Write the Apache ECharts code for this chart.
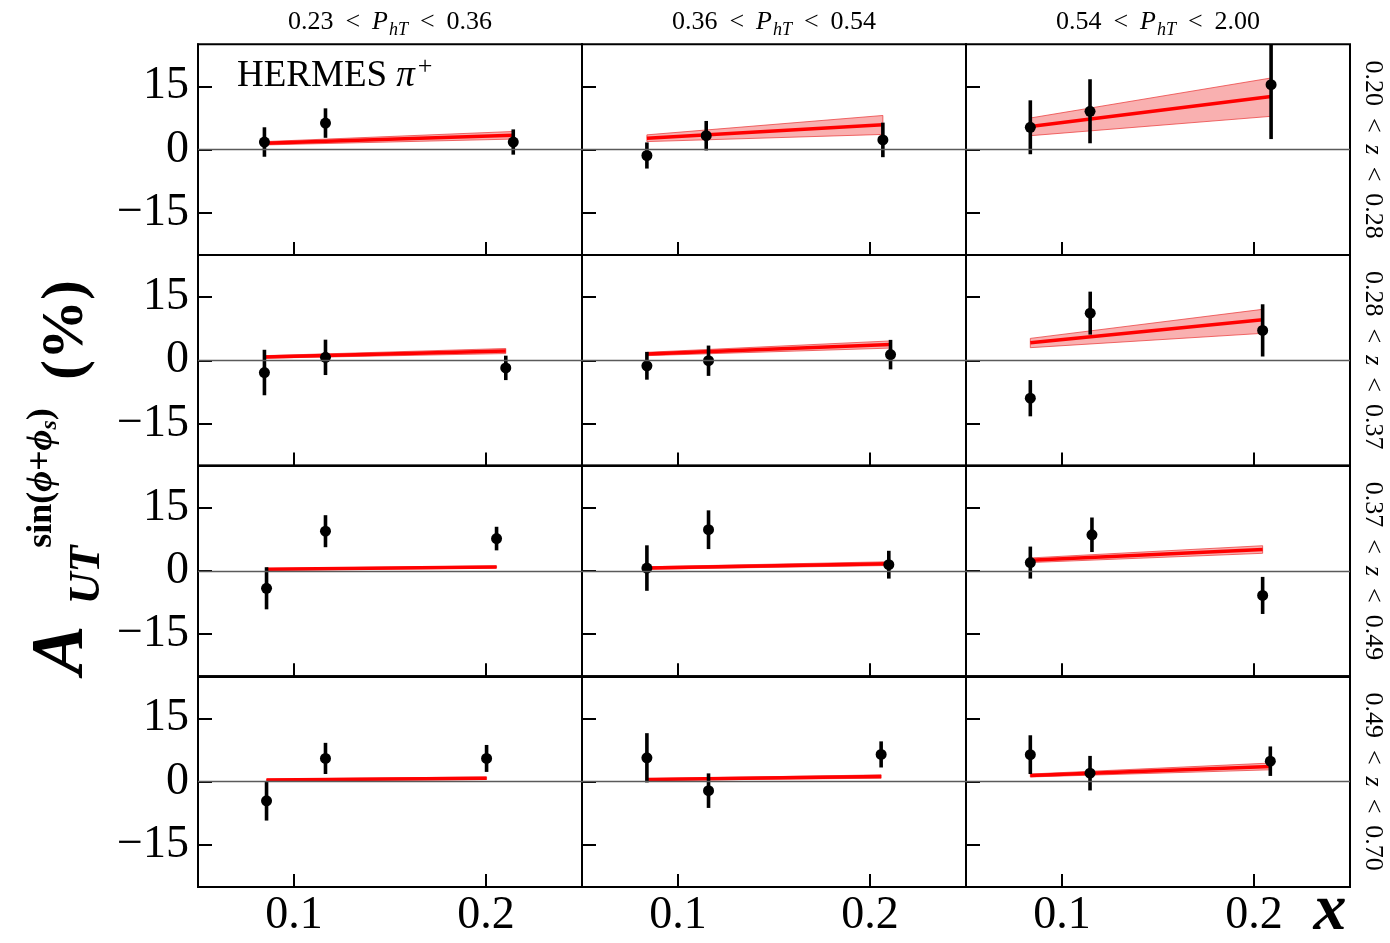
<!DOCTYPE html>
<html><head><meta charset="utf-8">
<script src="https://cdn.jsdelivr.net/npm/echarts@6/dist/echarts.min.js"></script>
<style>html,body{margin:0;padding:0;background:#fff}#c{width:1390px;height:943px}</style>
</head><body><div id="c"></div>
<script>
// ---- DATA ----
const phtEdges = ['0.23', '0.36', '0.54', '2.00'];
const zEdges = ['0.20', '0.28', '0.37', '0.49', '0.70'];
const xTicks = [0.1, 0.2];
const yTicks = [-15, 0, 15];
const xRange = [0.05, 0.25];
const yRange = [-25, 25];

// panel index = row*3 + col
const dataX = [
  [0.0846, 0.1164, 0.2142], [0.0838, 0.1147, 0.2067], [0.0835, 0.1146, 0.2089],
  [0.0846, 0.1164, 0.2103], [0.0838, 0.1159, 0.2107], [0.0835, 0.1147, 0.2045],
  [0.0857, 0.1164, 0.2055], [0.0838, 0.1159, 0.2098], [0.0835, 0.1156, 0.2045],
  [0.0857, 0.1164, 0.2003], [0.0838, 0.1159, 0.2058], [0.0835, 0.1146, 0.2085]
];
const dataY = [
  [1.8, 6.3, 1.8], [-1.4, 3.3, 2.3], [5.3, 9.1, 15.4],
  [-2.9, 0.7, -1.8], [-1.3, -0.1, 1.35], [-9.0, 11.2, 7.1],
  [-4.1, 9.45, 7.7], [0.7, 9.8, 1.5], [2.0, 8.6, -5.8],
  [-4.55, 5.5, 5.5], [5.65, -2.15, 6.45], [6.4, 2.0, 4.85]
];
const dataErr = [
  [3.5, 3.5, 3.0], [3.1, 3.5, 4.1], [6.4, 7.6, 12.9],
  [5.4, 4.2, 2.9], [3.3, 3.6, 3.5], [4.3, 5.1, 6.2],
  [5.0, 3.8, 2.8], [5.4, 4.6, 3.3], [3.8, 4.1, 4.4],
  [4.7, 3.7, 3.2], [5.85, 4.1, 3.1], [4.6, 4.1, 3.5]
];
const curveX = [
  [0.0846, 0.2142], [0.0838, 0.2067], [0.0835, 0.2089],
  [0.0846, 0.2103], [0.0838, 0.2107], [0.0835, 0.2045],
  [0.0857, 0.2055], [0.0838, 0.2098], [0.0835, 0.2045],
  [0.0857, 0.2003], [0.0838, 0.2058], [0.0835, 0.2085]
];
const curveMid = [
  [1.5, 3.4], [2.7, 5.9], [5.5, 12.6],
  [0.8, 2.2], [1.5, 3.75], [4.15, 9.6],
  [0.4, 0.95], [0.7, 1.75], [2.55, 5.1],
  [0.4, 0.8], [0.5, 1.2], [1.45, 3.6]
];
const curveLo = [
  [1.1, 2.5], [1.9, 3.6], [3.3, 7.9],
  [0.5, 1.6], [1.1, 2.9], [3.0, 6.4],
  [0.2, 0.7], [0.4, 1.3], [2.0, 4.2],
  [0.2, 0.5], [0.3, 0.8], [1.1, 2.8]
];
const curveHi = [
  [1.9, 4.3], [3.5, 8.1], [7.5, 17.0],
  [1.1, 2.8], [1.9, 4.6], [5.2, 12.1],
  [0.6, 1.2], [1.0, 2.2], [3.1, 6.0],
  [0.6, 1.1], [0.7, 1.6], [1.8, 4.4]
];

// ---- LAYOUT / STYLE ----
const FONT = 'Liberation Serif';
const gridLeft = [198, 582, 966], gridW = 384;
const gridTop = [44.3, 255, 465.7, 676.3], gridH = 210.6;

const grids = [], xAxes = [], yAxes = [], series = [];
for (let r = 0; r < 4; r++) {
  for (let c = 0; c < 3; c++) {
    const p = r * 3 + c;
    grids.push({left: gridLeft[c], top: gridTop[r], width: gridW, height: gridH,
      show: true, borderColor: '#000', borderWidth: 2, backgroundColor: 'transparent'});
    xAxes.push({gridIndex: p, type: 'value', min: xRange[0], max: xRange[1], position: 'bottom',
      axisLine: {show: true, onZero: false, lineStyle: {color: '#000', width: 2}},
      splitLine: {show: false},
      axisTick: {show: true, inside: true, length: 13, lineStyle: {color: '#000', width: 2}, customValues: xTicks},
      axisLabel: {show: r === 3, customValues: xTicks, formatter: v => v.toFixed(1),
        fontSize: 46, fontFamily: FONT, color: '#000', margin: 6}
    });
    yAxes.push({gridIndex: p, type: 'value', min: yRange[0], max: yRange[1], position: 'left',
      axisLine: {show: true, onZero: false, lineStyle: {color: '#000', width: 2}},
      splitLine: {show: false},
      axisTick: {show: true, inside: true, length: 14, lineStyle: {color: '#000', width: 2}, customValues: yTicks},
      axisLabel: {show: c === 0, customValues: yTicks,
        formatter: v => v < 0 ? '\u2212' + Math.abs(v) : String(v),
        fontSize: 46, fontFamily: FONT, color: '#000', margin: 9}
    });
    const cx = curveX[p], lo = curveLo[p], hi = curveHi[p];
    series.push({
      type: 'custom', xAxisIndex: p, yAxisIndex: p, z: 1, silent: true,
      data: cx.map((x, i) => [x, lo[i], hi[i]]),
      renderItem: (params, api) => {
        if (params.dataIndex !== 0) return null;
        const pts = [];
        for (let i = 0; i < cx.length; i++) pts.push(api.coord([cx[i], hi[i]]));
        for (let i = cx.length - 1; i >= 0; i--) pts.push(api.coord([cx[i], lo[i]]));
        return {type: 'polygon', shape: {points: pts},
          style: {fill: 'rgba(242,80,80,0.45)', stroke: 'rgba(235,60,60,0.75)', lineWidth: 1}};
      },
      markLine: {silent: true, symbol: 'none', animation: false,
        data: [{yAxis: 0}], label: {show: false},
        lineStyle: {color: '#5a5a5a', width: 1.3, type: 'solid'}}
    });
    series.push({
      type: 'line', xAxisIndex: p, yAxisIndex: p, z: 3, silent: true,
      data: cx.map((x, i) => [x, curveMid[p][i]]),
      symbol: 'none', lineStyle: {color: '#ff0000', width: 3.5}
    });
    series.push({
      type: 'custom', xAxisIndex: p, yAxisIndex: p, z: 4, silent: true,
      data: dataX[p].map((x, i) => [x, dataY[p][i], dataErr[p][i]]),
      renderItem: (params, api) => {
        const x = api.value(0), y = api.value(1), e = api.value(2);
        const cs = params.coordSys;
        const c0 = api.coord([x, y]);
        const t = api.coord([x, y + e]), b = api.coord([x, y - e]);
        const y1 = Math.max(t[1], cs.y), y2 = Math.min(b[1], cs.y + cs.height);
        return {type: 'group', children: [
          {type: 'line', shape: {x1: c0[0], y1: y1, x2: c0[0], y2: y2}, style: {stroke: '#000', lineWidth: 3.6}},
          {type: 'circle', shape: {cx: c0[0], cy: c0[1], r: 5.5}, style: {fill: '#000'}}
        ]};
      }
    });
  }
}

// ---- TEXT ----
const graphics = [];
const relRich = {
  n: {fontSize: 26, fontFamily: FONT, lineHeight: 34, fill: '#000'},
  r: {fontSize: 26, fontFamily: FONT, lineHeight: 34, padding: [0, 12, 0, 12], fill: '#000'},
  i: {fontSize: 26, fontFamily: FONT, fontStyle: 'italic', lineHeight: 34, fill: '#000'},
  s: {fontSize: 18, fontFamily: FONT, fontStyle: 'italic', lineHeight: 20, verticalAlign: 'bottom', fill: '#000', padding: [0, 0, 0, 1]}
};
for (let c = 0; c < 3; c++) {
  graphics.push({type: 'text', x: gridLeft[c] + gridW / 2, y: 22, silent: true,
    style: {text: '{n|' + phtEdges[c] + '}{r|<}{i|P}{s|hT}{r|<}{n|' + phtEdges[c + 1] + '}',
      rich: relRich, align: 'center', verticalAlign: 'middle'}});
}
for (let r = 0; r < 4; r++) {
  graphics.push({type: 'text', x: 1373, y: gridTop[r] + gridH / 2, rotation: -Math.PI / 2, silent: true,
    style: {text: '{n|' + zEdges[r] + '}{r|<}{i|z}{r|<}{n|' + zEdges[r + 1] + '}',
      rich: relRich, align: 'center', verticalAlign: 'middle'}});
}
// HERMES label
graphics.push({type: 'text', x: 237, y: 76, silent: true,
  style: {text: '{a|HERMES }{b|\u03c0}{c|+}', align: 'left', verticalAlign: 'middle',
    rich: {
      a: {fontSize: 37, fontFamily: FONT, lineHeight: 44, fill: '#000'},
      b: {fontSize: 37, fontFamily: FONT, fontStyle: 'italic', lineHeight: 44, fill: '#000'},
      c: {fontSize: 26, fontFamily: FONT, lineHeight: 26, verticalAlign: 'top', fill: '#000', padding: [0, 0, 0, 3]}
    }}});
// y axis title pieces (rotated CCW)
const rot = Math.PI / 2;
graphics.push({type: 'text', x: 63, y: 650, rotation: rot, silent: true,
  style: {text: 'A', fontSize: 74, fontFamily: FONT, fontWeight: 'bold', fontStyle: 'italic', fill: '#000', align: 'center', verticalAlign: 'middle'}});
graphics.push({type: 'text', x: 88, y: 575, rotation: rot, silent: true,
  style: {text: 'UT', fontSize: 44, fontFamily: FONT, fontWeight: 'bold', fontStyle: 'italic', fill: '#000', align: 'center', verticalAlign: 'middle'}});
graphics.push({type: 'text', x: 42, y: 478, rotation: rot, silent: true,
  style: {text: '{a|sin(}{b|\u03d5}{a|+}{b|\u03d5}{c|s}{a|)}', align: 'center', verticalAlign: 'middle',
    rich: {
      a: {fontSize: 36, fontFamily: FONT, fontWeight: 'bold', lineHeight: 40, fill: '#000'},
      b: {fontSize: 36, fontFamily: FONT, fontWeight: 'bold', fontStyle: 'italic', lineHeight: 40, fill: '#000'},
      c: {fontSize: 24, fontFamily: FONT, fontWeight: 'bold', fontStyle: 'italic', lineHeight: 24, verticalAlign: 'bottom', fill: '#000'}
    }}});
graphics.push({type: 'text', x: 66, y: 330, rotation: rot, silent: true,
  style: {text: '(%)', fontSize: 60, fontFamily: FONT, fontWeight: 'bold', fill: '#000', align: 'center', verticalAlign: 'middle'}});
// x axis title
graphics.push({type: 'text', x: 1330, y: 912, silent: true,
  style: {text: 'x', fontSize: 66, fontFamily: FONT, fontWeight: 'bold', fontStyle: 'italic', fill: '#000', align: 'center', verticalAlign: 'middle'}});

const chart = echarts.init(document.getElementById('c'), null, {renderer: 'canvas'});
chart.setOption({
  animation: false,
  backgroundColor: '#fff',
  grid: grids, xAxis: xAxes, yAxis: yAxes, series: series, graphic: graphics
});
</script>
</body></html>
